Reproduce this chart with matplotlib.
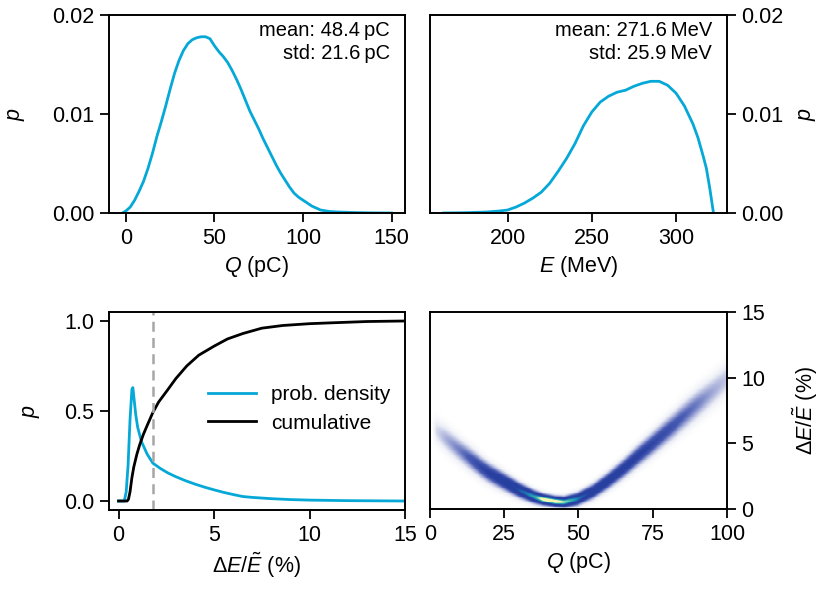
import matplotlib
matplotlib.use("Agg")
import matplotlib.pyplot as plt
import numpy as np
from matplotlib.colors import LinearSegmentedColormap

plt.rcParams['font.family'] = ['Liberation Sans', 'DejaVu Sans']
plt.rcParams['mathtext.fontset'] = 'custom'
plt.rcParams['mathtext.rm'] = 'Liberation Sans'
plt.rcParams['mathtext.it'] = 'Liberation Sans:italic'
plt.rcParams['font.size'] = 15.5
plt.rcParams['axes.linewidth'] = 1.4
plt.rcParams['xtick.major.width'] = 1.3
plt.rcParams['ytick.major.width'] = 1.3
plt.rcParams['xtick.major.size'] = 6.5
plt.rcParams['ytick.major.size'] = 6.5
plt.rcParams['xtick.major.pad'] = 4
plt.rcParams['ytick.major.pad'] = 4

CYAN = '#05a8d6'

# charge distribution
q_vals = [-1.9, 0, 2.5, 5, 7.5, 10, 12.5, 15, 17.5, 20, 22.5, 25, 27.5, 30, 32.5,
          35, 37.5, 40, 42.5, 45, 47.5, 50, 52.5, 55, 57.5, 60, 62.5, 65, 67.5,
          70, 72.5, 75, 77.5, 80, 82.5, 85, 87.5, 90, 92.5, 95, 97.5, 100, 105,
          110, 115, 120, 130, 140, 150]
q_prob = [0, 0.0002, 0.0006, 0.0013, 0.0022, 0.0032, 0.0045, 0.0060, 0.0077,
          0.0092, 0.0108, 0.0125, 0.0141, 0.0154, 0.0164, 0.0171, 0.0175,
          0.0177, 0.0178, 0.0178, 0.0176, 0.0169, 0.0163, 0.0158, 0.0152,
          0.0144, 0.0135, 0.0125, 0.0114, 0.0103, 0.0094, 0.0085, 0.0075,
          0.0066, 0.0057, 0.0048, 0.0040, 0.0033, 0.0026, 0.0020, 0.0016,
          0.0013, 0.0007, 0.0003, 0.00015, 0.0001, 0.00004, 0.00001, 0]

# energy distribution
e_vals = [162, 175, 187.5, 195, 200, 205, 210, 215, 220, 225, 230, 235, 240, 245,
          250, 255, 260, 265, 270, 275, 280, 285, 290, 295, 300, 305, 310, 313,
          316, 318, 320, 322.2]
e_prob = [0, 0.00003, 0.0001, 0.0002, 0.0003, 0.0006, 0.0010, 0.0015, 0.0021,
          0.0030, 0.0042, 0.0055, 0.0070, 0.0088, 0.0102, 0.0112, 0.0118,
          0.0122, 0.0124, 0.0128, 0.0131, 0.0133, 0.0133, 0.0129, 0.0121,
          0.0108, 0.0090, 0.0076, 0.0058, 0.0045, 0.0025, 0]

# energy spread: density and cumulative
spread_x = [0, 0.3, 0.4, 0.5, 0.6, 0.7, 0.75, 0.8, 0.9, 1.0, 1.2, 1.5, 1.8, 2.2,
            2.6, 3.0, 3.5, 4.0, 4.5, 5.0, 5.5, 6.0, 6.5, 7, 8, 9, 10, 12, 15]
spread_pdf = [0, 0, 0.05, 0.2, 0.45, 0.62, 0.63, 0.58, 0.48, 0.41, 0.33, 0.26,
              0.21, 0.18, 0.155, 0.135, 0.113, 0.094, 0.077, 0.062, 0.048,
              0.036, 0.025, 0.02, 0.013, 0.008, 0.005, 0.002, 0]
cum_x = [0, 0.45, 0.52, 0.6, 0.7, 0.8, 0.96, 1.1, 1.3, 1.5, 1.79, 2.1, 2.52, 3.0,
         3.57, 4.2, 5.0, 5.7, 6.5, 7.5, 8.6, 10, 11.2, 13, 15]
cum_y = [0, 0, 0.01, 0.05, 0.13, 0.19, 0.26, 0.31, 0.37, 0.42, 0.49, 0.55, 0.61,
         0.68, 0.75, 0.81, 0.86, 0.90, 0.93, 0.96, 0.975, 0.985, 0.99, 0.997, 1.0]
spread_median = 1.8

# charge vs energy spread band: centre, width and peak density along Q
band_q = [0.5, 2, 5, 10, 15, 20, 25, 30, 35, 38, 42, 45, 50, 55, 60, 65, 70, 75,
          80, 85, 90, 95, 100]
band_c = [6.2, 5.9, 5.35, 4.4, 3.5, 2.7, 2.05, 1.4, 0.9, 0.7, 0.55, 0.5, 0.75,
          1.3, 2.1, 3.0, 4.0, 4.95, 5.95, 6.9, 7.9, 8.85, 9.85]
band_s = [0.6, 0.6, 0.6, 0.56, 0.52, 0.47, 0.42, 0.36, 0.3, 0.26, 0.24, 0.25,
          0.3, 0.35, 0.4, 0.45, 0.5, 0.55, 0.6, 0.65, 0.7, 0.72, 0.75]
band_w = [0.0, 0.12, 0.2, 0.3, 0.42, 0.52, 0.62, 0.74, 0.88, 1.04, 1.08, 0.98,
          0.8, 0.66, 0.6, 0.56, 0.52, 0.47, 0.42, 0.36, 0.3, 0.22, 0.16]

fig = plt.figure(figsize=(8.22, 5.92), dpi=100)
ax1 = fig.add_axes([0.1326, 0.6402, 0.3601, 0.3345])
ax2 = fig.add_axes([0.5231, 0.6402, 0.3613, 0.3345])
ax3 = fig.add_axes([0.1326, 0.1385, 0.3601, 0.3345])
ax4 = fig.add_axes([0.5231, 0.1402, 0.3613, 0.3328])

# top left: Q
ax1.plot(q_vals, q_prob, color=CYAN, lw=2)
ax1.set_ylim(0, 0.02)
ax1.set_yticks([0, 0.01, 0.02])
ax1.set_yticklabels(['0.00', '0.01', '0.02'])
ax1.set_xticks([0, 50, 100, 150])
ax1.set_xlabel(r'$Q$ (pC)')
ax1.set_ylabel(r'$p$')
ax1.yaxis.set_label_coords(-0.278, 0.5)
ax1.text(0.95, 0.97, 'mean: 48.4\u2009pC\nstd: 21.6\u2009pC', transform=ax1.transAxes,
         ha='right', va='top', fontsize=14.5, linespacing=1.3)

# top right: E
ax2.plot(e_vals, e_prob, color=CYAN, lw=2)
ax2.set_ylim(0, 0.02)
ax2.set_yticks([0, 0.01, 0.02])
ax2.set_yticklabels(['0.00', '0.01', '0.02'])
ax2.set_xticks([200, 250, 300])
ax2.yaxis.tick_right()
ax2.yaxis.set_label_position('right')
ax2.set_xlabel(r'$E$ (MeV)')
ax2.set_ylabel(r'$p$')
ax2.yaxis.set_label_coords(1.235, 0.5)
ax2.text(0.95, 0.97, 'mean: 271.6\u2009MeV\nstd: 25.9\u2009MeV', transform=ax2.transAxes,
         ha='right', va='top', fontsize=14.5, linespacing=1.3)

# bottom left: energy spread
ax3.plot(spread_x, spread_pdf, color=CYAN, lw=2, label='prob. density')
ax3.plot(cum_x, cum_y, color='black', lw=2, label='cumulative')
ax3.axvline(spread_median, color='#a6a6a6', lw=1.8, ls=(0, (4, 2.5)))
ax3.set_xlim(-0.5, 15)
ax3.set_ylim(-0.05, 1.05)
ax3.set_xticks([0, 5, 10, 15])
ax3.set_yticks([0, 0.5, 1.0])
ax3.set_xlabel(r'$\mathit{\Delta E/\tilde{E}}$ (%)')
ax3.set_ylabel(r'$p$')
ax3.yaxis.set_label_coords(-0.225, 0.5)
ax3.legend(loc='center left', bbox_to_anchor=(0.27, 0.51), frameon=False,
           fontsize=15, handlelength=2.3, handletextpad=0.75, labelspacing=0.45)

# bottom right: Q vs energy spread
cmap = LinearSegmentedColormap.from_list('band', [
    (0.0, '#ffffff'), (0.08, '#eceef6'), (0.2, '#a9b0da'), (0.35, '#4a5db4'),
    (0.5, '#2a40a0'), (0.7, '#2540a0'), (0.82, '#1d80b7'), (0.92, '#40bfae'),
    (1.0, '#f3f6b0')])
gq = np.linspace(0, 100, 300)
gy = np.linspace(0, 15, 240)
cc = np.interp(gq, band_q, band_c)
ss = np.interp(gq, band_q, band_s)
ww = np.interp(gq, band_q, band_w)
dens = ww[None, :] * np.exp(-0.5 * ((gy[:, None] - cc[None, :]) / ss[None, :]) ** 2)
ax4.imshow(np.clip(dens, 0, 1), extent=(0, 100, 0, 15), origin='lower', aspect='auto',
           cmap=cmap, vmin=0, vmax=1, interpolation='nearest')
ax4.set_xlim(0, 100)
ax4.set_ylim(0, 15)
ax4.set_xticks([0, 25, 50, 75, 100])
ax4.set_yticks([0, 5, 10, 15])
ax4.yaxis.tick_right()
ax4.yaxis.set_label_position('right')
ax4.set_xlabel(r'$Q$ (pC)')
ax4.set_ylabel(r'$\mathit{\Delta E/\tilde{E}}$ (%)')
ax4.yaxis.set_label_coords(1.215, 0.5)

fig.savefig('out.png', dpi=100)
